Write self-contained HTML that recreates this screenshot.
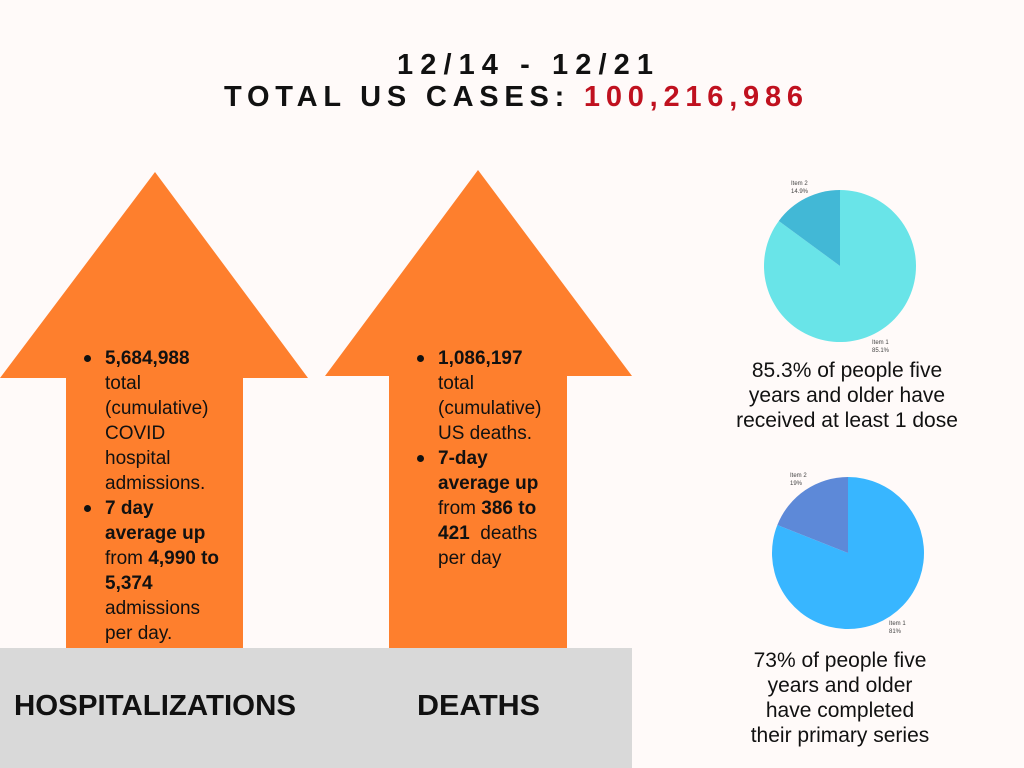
<!DOCTYPE html>
<html><head><meta charset="utf-8">
<style>
body{margin:0;width:1024px;height:768px;background:#fffaf9;position:relative;overflow:hidden;font-family:"Liberation Sans",sans-serif}
.abs{position:absolute}
.txt{position:absolute;font-size:19px;line-height:25px;color:#111}
.txt b{font-weight:bold}
.bul{position:absolute;width:7px;height:7px;border-radius:50%;background:#111}
.cap{position:absolute;font-size:21px;line-height:25px;text-align:center;color:#111}
</style></head><body>
<svg class="abs" style="left:0;top:0" width="1024" height="768">
  <text x="525" y="74" font-family="Liberation Sans" font-weight="bold" font-size="29" textLength="256" lengthAdjust="spacing" text-anchor="middle" fill="#111">12/14 - 12/21</text>
  <text x="224" y="106" font-family="Liberation Sans" font-weight="bold" font-size="29" textLength="579" lengthAdjust="spacing" fill="#111">TOTAL US CASES: <tspan fill="#c0111f">100,216,986</tspan></text>
  <polygon points="155,172 308,378 243,378 243,648 66,648 66,378 0,378" fill="#fe7f2d"/>
  <polygon points="478,170 632,376 567,376 567,648 389,648 389,376 325,376" fill="#fe7f2d"/>
  <rect x="0" y="648" width="632" height="120" fill="#d9d9d9"/>
  <g id="pie1"></g>
  <g id="pie2"></g>
  <text x="14" y="715" font-family="Liberation Sans" font-weight="bold" font-size="29" textLength="282" lengthAdjust="spacingAndGlyphs" fill="#111">HOSPITALIZATIONS</text>
  <text x="417" y="715" font-family="Liberation Sans" font-weight="bold" font-size="29" textLength="123" lengthAdjust="spacingAndGlyphs" fill="#111">DEATHS</text>
</svg>

<div class="bul" style="left:84px;top:355px"></div>
<div class="txt" style="left:105px;top:346px"><b>5,684,988</b><br>total<br>(cumulative)<br>COVID<br>hospital<br>admissions.</div>
<div class="bul" style="left:84px;top:505px"></div>
<div class="txt" style="left:105px;top:496px"><b>7 day<br>average up</b><br>from <b>4,990 to<br>5,374</b><br>admissions<br>per day.</div>

<div class="bul" style="left:417px;top:355px"></div>
<div class="txt" style="left:438px;top:346px"><b>1,086,197</b><br>total<br>(cumulative)<br>US deaths.</div>
<div class="bul" style="left:417px;top:455px"></div>
<div class="txt" style="left:438px;top:446px"><b>7-day<br>average up</b><br>from <b>386 to<br>421</b>&nbsp; deaths<br>per day</div>

<div class="cap" style="left:697px;top:358px;width:300px">85.3% of people five<br>years and older have<br>received at least 1 dose</div>
<div class="cap" style="left:690px;top:648px;width:300px">73% of people five<br>years and older<br>have completed<br>their primary series</div>

<script>
const pie1Labels = ["Item 1","Item 2"];
const pie1Values = [85.1, 14.9];
const pie1Text = ["85.1%","14.9%"];
const pie2Labels = ["Item 1","Item 2"];
const pie2Values = [81, 19];
const pie2Text = ["81%","19%"];
const NS="http://www.w3.org/2000/svg";
function drawPie(id,cx,cy,r,labels,vals,texts,colors,labelPos){
  const g=document.getElementById(id);
  const tot=vals.reduce((a,b)=>a+b,0);
  let a=0;
  vals.forEach((v,i)=>{
    const a0=a, a1=a+v/tot*2*Math.PI; a=a1;
    const x0=cx+r*Math.sin(a0), y0=cy-r*Math.cos(a0);
    const x1=cx+r*Math.sin(a1), y1=cy-r*Math.cos(a1);
    const p=document.createElementNS(NS,"path");
    p.setAttribute("d",`M${cx},${cy}L${x0},${y0}A${r},${r} 0 ${a1-a0>Math.PI?1:0} 1 ${x1},${y1}Z`);
    p.setAttribute("fill",colors[i]);
    
    
    g.appendChild(p);
    const lp=labelPos[i];
    [labels[i],texts[i]].forEach((s,k)=>{
      const t=document.createElementNS(NS,"text");
      t.setAttribute("x",lp[0]);t.setAttribute("y",lp[1]+k*8);
      t.setAttribute("font-size","6");t.setAttribute("fill","#444");
      t.setAttribute("font-family","Liberation Sans");
      t.textContent=s;
      
      
      g.appendChild(t);
    });
  });
}
drawPie("pie1",840,266,76,pie1Labels,pie1Values,pie1Text,["#69e4e8","#42b8d6"],[[872,344],[791,185]]);
drawPie("pie2",848,553,76,pie2Labels,pie2Values,pie2Text,["#38b6ff","#5d89d8"],[[889,625],[790,477]]);
</script>
</body></html>
